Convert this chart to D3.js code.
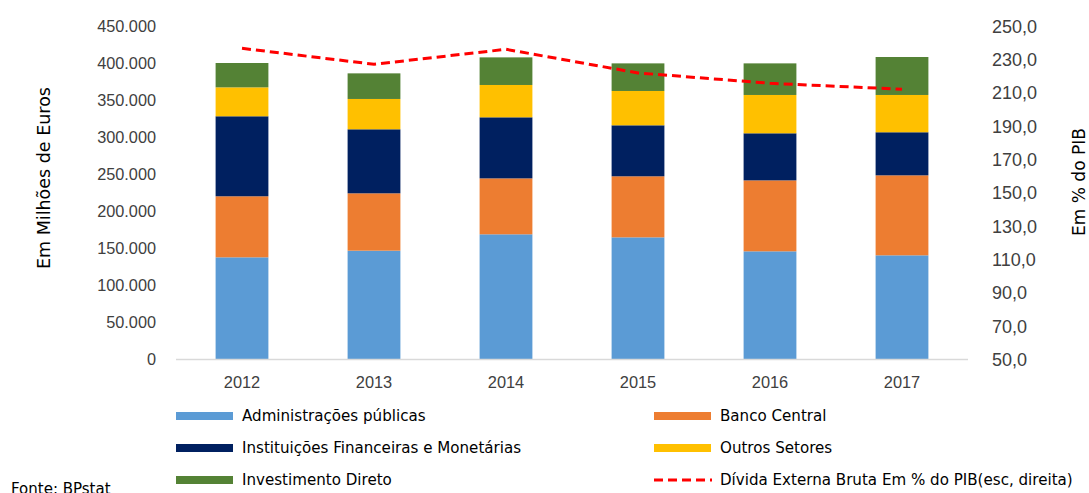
<!DOCTYPE html>
<html>
<head>
<meta charset="utf-8">
<script src="https://cdn.jsdelivr.net/npm/d3@7"></script>
<style>
  html, body { margin: 0; padding: 0; background: #fff; overflow: hidden; }
  svg { display: block; font-family: "DejaVu Sans", sans-serif; }
</style>
</head>
<body>
<svg id="chart" width="1089" height="493"></svg>
<script>
// data (milhões de euros)
const years = ['2012', '2013', '2014', '2015', '2016', '2017'];
const adminPublicas = [137400, 146400, 168500, 164400, 145500, 140100];
const bancoCentral = [82500, 77500, 75600, 82500, 95900, 108100];
const instFinanceiras = [108100, 86500, 82500, 68900, 63600, 58200];
const outrosSetores = [39100, 41000, 43700, 46400, 51800, 50400];
const investDireto = [32900, 34600, 37300, 37300, 42700, 51300];
const dividaPctPIB = [236.6, 227.0, 236.0, 221.8, 215.6, 212.0];

const leftTicks = [0, 50000, 100000, 150000, 200000, 250000, 300000, 350000, 400000, 450000];
const rightTicks = [50, 70, 90, 110, 130, 150, 170, 190, 210, 230, 250];

const series = [
    { key: 'ap', name: 'Administrações públicas', values: adminPublicas, color: '#5B9BD5' },
    { key: 'bc', name: 'Banco Central', values: bancoCentral, color: '#ED7D31' },
    { key: 'ifm', name: 'Instituições Financeiras e Monetárias', values: instFinanceiras, color: '#002060' },
    { key: 'os', name: 'Outros Setores', values: outrosSetores, color: '#FFC000' },
    { key: 'id', name: 'Investimento Direto', values: investDireto, color: '#548235' }
];
const lineName = 'Dívida Externa Bruta Em % do PIB(esc, direita)';

const svg = d3.select('#chart');
const plot = { left: 176, right: 968, top: 26, bottom: 359 };

const x = d3.scaleBand().domain(years).range([plot.left, plot.right]).paddingInner(0.6).paddingOuter(0.3);
const yL = d3.scaleLinear().domain([0, 450000]).range([plot.bottom, plot.top]);
const yR = d3.scaleLinear().domain([50, 250]).range([plot.bottom, plot.top]);

const fmtL = v => v === 0 ? '0' : d3.format(',')(v).replace(/,/g, '.');
const fmtR = v => d3.format('.1f')(v).replace('.', ',');

// stacked bars
const rows = years.map((yr, i) => {
    const r = { year: yr };
    series.forEach(s => { r[s.key] = s.values[i]; });
    return r;
});
const stack = d3.stack().keys(series.map(s => s.key))(rows);

svg.append('g').selectAll('g')
    .data(stack).enter().append('g')
    .attr('fill', (d, i) => series[i].color)
    .selectAll('rect')
    .data(d => d).enter().append('rect')
    .attr('x', d => x(d.data.year))
    .attr('width', x.bandwidth())
    .attr('y', d => yL(d[1]))
    .attr('height', d => yL(d[0]) - yL(d[1]));

// baseline
svg.append('line')
    .attr('x1', plot.left).attr('x2', plot.right)
    .attr('y1', plot.bottom + 0.5).attr('y2', plot.bottom + 0.5)
    .attr('stroke', '#d9d9d9').attr('stroke-width', 1.5);

// left axis
const axL = svg.append('g').attr('transform', `translate(${plot.left - 20},0)`)
    .call(d3.axisLeft(yL).tickValues(leftTicks).tickFormat(fmtL).tickSize(0).tickPadding(0));
axL.select('.domain').remove();
axL.selectAll('text').attr('font-size', 16.3).attr('fill', '#404040').attr('font-family', null).attr('dy', '0.35em');

// right axis
const axR = svg.append('g').attr('transform', `translate(${plot.right + 24},0)`)
    .call(d3.axisRight(yR).tickValues(rightTicks).tickFormat(fmtR).tickSize(0).tickPadding(0));
axR.select('.domain').remove();
axR.selectAll('text').attr('font-size', 18).attr('fill', '#404040').attr('font-family', null).attr('dy', '0.35em');

// x axis
const axX = svg.append('g').attr('transform', `translate(0,${plot.bottom})`)
    .call(d3.axisBottom(x).tickSize(0).tickPadding(17));
axX.select('.domain').remove();
axX.selectAll('text').attr('font-size', 16.4).attr('fill', '#404040').attr('font-family', null);

// line on right axis
const line = d3.line()
    .x((d, i) => x(years[i]) + x.bandwidth() / 2)
    .y(d => yR(d));
svg.append('path')
    .datum(dividaPctPIB)
    .attr('d', line)
    .attr('fill', 'none')
    .attr('stroke', '#FF0000')
    .attr('stroke-width', 3)
    .attr('stroke-dasharray', '9,5');

// axis titles
svg.append('text')
    .attr('transform', 'translate(50,178) rotate(-90)')
    .attr('text-anchor', 'middle')
    .attr('font-size', 17.5).attr('fill', '#000')
    .text('Em Milhões de Euros');
svg.append('text')
    .attr('transform', 'translate(1085,182) rotate(-90)')
    .attr('text-anchor', 'middle')
    .attr('font-size', 17).attr('fill', '#000')
    .text('Em % do PIB');

// legend
const legendItems = [
    { name: series[0].name, color: series[0].color, col: 0, row: 0 },
    { name: series[1].name, color: series[1].color, col: 1, row: 0 },
    { name: series[2].name, color: series[2].color, col: 0, row: 1 },
    { name: series[3].name, color: series[3].color, col: 1, row: 1 },
    { name: series[4].name, color: series[4].color, col: 0, row: 2 },
    { name: lineName, color: '#FF0000', col: 1, row: 2, dashed: true }
];
const colX = [176, 654];
const rowY = [416, 448, 480];

const lg = svg.append('g').selectAll('g')
    .data(legendItems).enter().append('g')
    .attr('transform', d => `translate(${colX[d.col]},${rowY[d.row]})`);

lg.filter(d => !d.dashed).append('rect')
    .attr('x', 0).attr('y', -4).attr('width', 57).attr('height', 8)
    .attr('fill', d => d.color);
lg.filter(d => d.dashed).append('line')
    .attr('x1', 0).attr('x2', 58).attr('y1', 0).attr('y2', 0)
    .attr('stroke', '#FF0000').attr('stroke-width', 3).attr('stroke-dasharray', '9,5');
lg.append('text')
    .attr('x', 66).attr('dy', '0.35em')
    .attr('font-size', 15.1).attr('fill', '#000')
    .text(d => d.name);

// source
svg.append('text')
    .attr('x', 11).attr('y', 494)
    .attr('font-size', 15).attr('fill', '#000')
    .text('Fonte: BPstat');
</script>
</body>
</html>
